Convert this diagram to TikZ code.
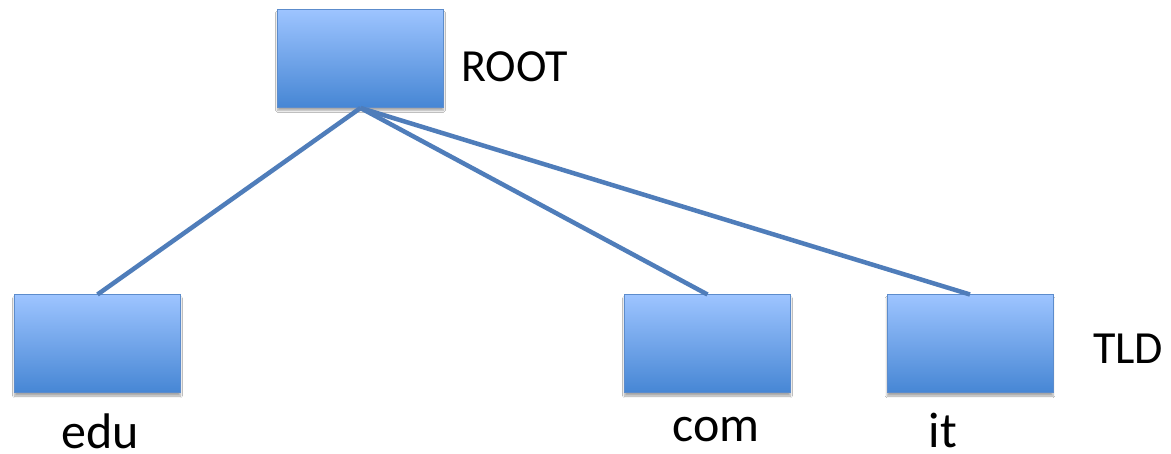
\documentclass[tikz,border=0pt]{standalone}
\usepackage{fontspec}
\setmainfont{Carlito}
\usetikzlibrary{shadows.blur}
\definecolor{boxtop}{RGB}{157,196,255}
\definecolor{boxbottom}{RGB}{70,134,212}
\definecolor{boxedge}{RGB}{92,140,204}
\definecolor{linkblue}{RGB}{79,125,186}
\tikzset{
  server/.style={rectangle, minimum width=166pt, minimum height=98pt,
    top color=boxtop, bottom color=boxbottom, draw=boxedge, line width=1pt,
    blur shadow={shadow xshift=0pt, shadow yshift=-3pt, shadow blur steps=6, shadow opacity=35}},
  link/.style={draw=linkblue, line width=4.5pt},
  lbl/.style={font=\fontsize{46}{50}\selectfont, inner sep=0pt, text=black},
  leaf/.style={font=\fontsize{50}{54}\selectfont, inner sep=0pt, text=black}
}
\begin{document}
\begin{tikzpicture}[x=1pt,y=-1pt]
\useasboundingbox (0,0) rectangle (1171,454);
\fill[white] (0,0) rectangle (1171,454);
% boxes
\node[server] (root) at (360.5,58.5) {};
\node[server] (edu) at (97.5,344) {};
\node[server] (com) at (707.5,344) {};
\node[server] (it) at (970,344) {};
% links from the root to each TLD server
\draw[link] (root.south) -- (edu.north);
\draw[link] (root.south) -- (com.north);
\draw[link] (root.south) -- (it.north);
% labels
\node[lbl, anchor=base west] (rootlbl) at (461,82) {ROOT};
\node[lbl, anchor=base west] (tldlbl) at (1093,364) {TLD};
\node[leaf, anchor=base] (edulbl) at (100.5,449) {edu};
\node[leaf, anchor=base] (comlbl) at (716,442) {com};
\node[leaf, anchor=base] (itlbl) at (943,448) {it};
\end{tikzpicture}
\end{document}
